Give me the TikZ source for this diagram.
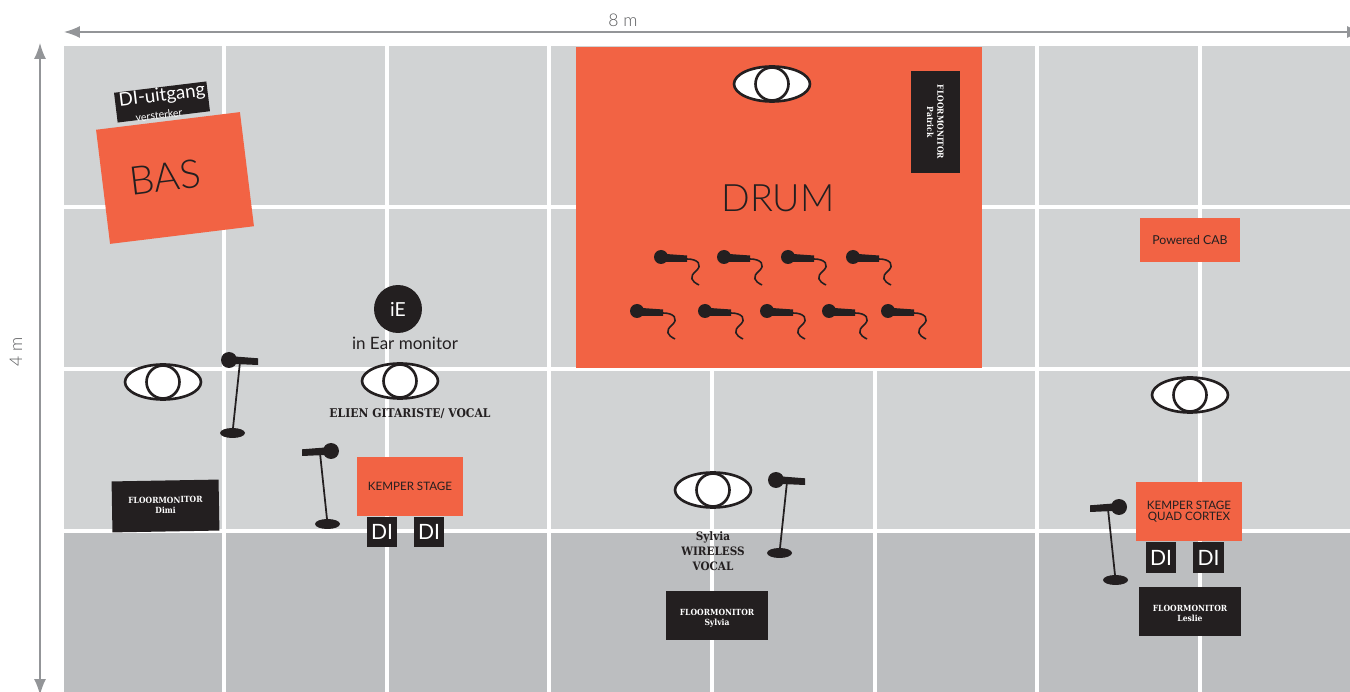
\documentclass[tikz,border=0pt]{standalone}
\usepackage{fontspec}
\usepackage{tikz}
\usetikzlibrary{arrows.meta}
\setmainfont{Lato}
\newfontfamily\lightfont{Lato Light}
\newfontfamily\slabfont{DejaVu Serif Condensed}
\definecolor{stagegray}{HTML}{D1D3D4}
\definecolor{frontgray}{HTML}{BCBEC0}
\definecolor{measuregray}{HTML}{939598}
\definecolor{measuretext}{HTML}{58595B}
\definecolor{bandorange}{HTML}{F26344}
\definecolor{inkblack}{HTML}{231F20}
\tikzset{
    gridline/.style={white,line width=1.75pt},
    orangebox/.style={fill=bandorange,inner sep=0pt,text=inkblack},
    blackbox/.style={fill=inkblack,inner sep=0pt,text=white},
    dibox/.style={blackbox,minimum width=.61cm,minimum height=.61cm,font=\fontsize{12}{12}\selectfont},
    monitorbox/.style={blackbox,minimum width=2.04cm,minimum height=.98cm,align=center,text height=12pt,text depth=.2pt,font=\slabfont\bfseries\fontsize{4.8}{5.8}\selectfont},
    measure/.style={measuregray,line width=.8pt,{Latex[length=.32cm,width=.24cm]}-{Latex[length=.32cm,width=.24cm]}},
    eye/.pic={
        \draw[inkblack,line width=1.5pt,fill=white] (0,0) ellipse (38 and 17.5);
        \draw[inkblack,line width=1.5pt,fill=white] (0,0) circle (.33cm);
    },
    drummic/.pic={
        \fill[inkblack] (0,0) circle (.14cm);
        \fill[inkblack] (5,-3) -- (26,-1.5) -- (26,5) -- (5,5) -- cycle;
        \draw[inkblack,line width=.9pt] (26,2) .. controls (37,2) and (42,8) .. (35,14) .. controls (28,20) and (30,24) .. (38,28);
    },
    standmic/.pic={
        \fill[inkblack] (0,0) circle (.16cm);
        \fill[inkblack] (6,-3.5) -- (29,-1.7) -- (29,5) -- (6,4) -- cycle;
        \draw[inkblack,line width=1pt] (11,2) -- (4,68);
        \fill[inkblack] (3.5,73) ellipse (12.5 and 5);
    },
}
\begin{document}
\begin{tikzpicture}[x=.02cm,y=-.02cm]
    \useasboundingbox (0,0) rectangle (1350,692);
    % stage floor
    \fill[stagegray] (64,46) rectangle (1350,532);
    \fill[frontgray] (64,532) rectangle (1350,692);
    \foreach \x in {224,387,549,1037,1200}
        \draw[gridline] (\x,46) -- (\x,692);
    \foreach \x in {712,875}
        \draw[gridline] (\x,369) -- (\x,692);
    \foreach \y in {207,369,531}
        \draw[gridline] (64,\y) -- (1350,\y);
    % measures
    \coordinate (widthleft) at (64,32);
    \coordinate (widthright) at (1363,32);
    \coordinate (heighttop) at (40,43);
    \coordinate (heightbottom) at (40,695);
    \draw[measure] (widthleft) -- (widthright);
    \draw[measure] (heighttop) -- (heightbottom);
    \node[text=measuretext,font=\lightfont\fontsize{10}{10}\selectfont] (widthlabel) at (623,20) {8 m};
    \node[text=measuretext,rotate=90,font=\lightfont\fontsize{10}{10}\selectfont] (heightlabel) at (16,352) {4 m};
    % bas
    \node[blackbox,rotate=7,minimum width=1.86cm,minimum height=.6cm,align=center] (diuitgang) at (162,102) {};
    \node[text=white,rotate=7,inner sep=0pt,font=\fontsize{10.6}{10.6}\selectfont] (diuitganglabel) at (162,96) {DI-uitgang};
    \node[text=white,rotate=7,inner sep=0pt,font=\fontsize{6}{6}\selectfont] (versterker) at (159,115) {versterker};
    \node[orangebox,rotate=7,minimum width=2.9cm,minimum height=2.3cm] (bas) at (175,178) {};
    \node[text=inkblack,rotate=7,font=\lightfont\fontsize{22.5}{22.5}\selectfont] (baslabel) at (165,177) {BAS};
    % drum
    \node[orangebox,minimum width=8.12cm,minimum height=6.42cm] (drum) at (779,207.5) {};
    \node[text=inkblack,font=\lightfont\fontsize{21.5}{21.5}\selectfont] (drumlabel) at (778,198) {DRUM};
    \node[monitorbox,rotate=-90,text height=9.7pt] (patrick) at (935.5,122) {FLOORMONITOR\\Patrick};
    \pic at (772,84) {eye};
    \foreach \x in {661,724,788,853}
        \pic at (\x,257) {drummic};
    \foreach \x in {637,705,767,829,888}
        \pic at (\x,311) {drummic};
    % dimi
    \pic at (163,382) {eye};
    \pic at (229,360) {standmic};
    \node[monitorbox,rotate=1,minimum width=2.14cm,minimum height=1.02cm,text height=8.6pt] (dimi) at (165.5,506) {FLOORMONITOR\\Dimi};
    % elien
    \node[circle,fill=inkblack,text=white,minimum size=.96cm,inner sep=0pt,font=\fontsize{11}{11}\selectfont] (ie) at (398,309) {iE};
    \node[text=inkblack,font=\fontsize{9.7}{9.7}\selectfont] (ielabel) at (405,343) {in Ear monitor};
    \pic at (400,381) {eye};
    \node[text=inkblack,font=\slabfont\bfseries\fontsize{6.85}{6.85}\selectfont] (elien) at (410,413.5) {ELIEN GITARISTE/ VOCAL};
    \pic[xscale=-1] at (331,451) {standmic};
    \node[orangebox,minimum width=2.12cm,minimum height=1.18cm,font=\fontsize{6.6}{6.6}\selectfont] (kemperone) at (410,486.5) {KEMPER STAGE};
    \node[dibox] (dione) at (382,532) {DI};
    \node[dibox] (ditwo) at (429,532) {DI};
    % sylvia
    \pic at (713,490) {eye};
    \pic at (776,480) {standmic};
    \node[text=inkblack,align=center,font=\slabfont\bfseries\fontsize{6.6}{8.5}\selectfont] (sylvialabel) at (713,551) {Sylvia\\WIRELESS\\VOCAL};
    \node[monitorbox] (sylvia) at (717,615.5) {FLOORMONITOR\\Sylvia};
    % leslie
    \node[orangebox,minimum width=2cm,minimum height=.88cm,font=\fontsize{7}{7}\selectfont] (cab) at (1190,240) {Powered CAB};
    \pic at (1190,395) {eye};
    \pic[xscale=-1] at (1119,507) {standmic};
    \node[orangebox,minimum width=2.12cm,minimum height=1.18cm,align=center,font=\fontsize{6.6}{6.6}\selectfont] (kempertwo) at (1189,511.5) {KEMPER STAGE\\QUAD CORTEX};
    \node[dibox] (dithree) at (1161,557.5) {DI};
    \node[dibox] (difour) at (1208.5,557.5) {DI};
    \node[monitorbox] (leslie) at (1190,611.5) {FLOORMONITOR\\Leslie};
\end{tikzpicture}
\end{document}
